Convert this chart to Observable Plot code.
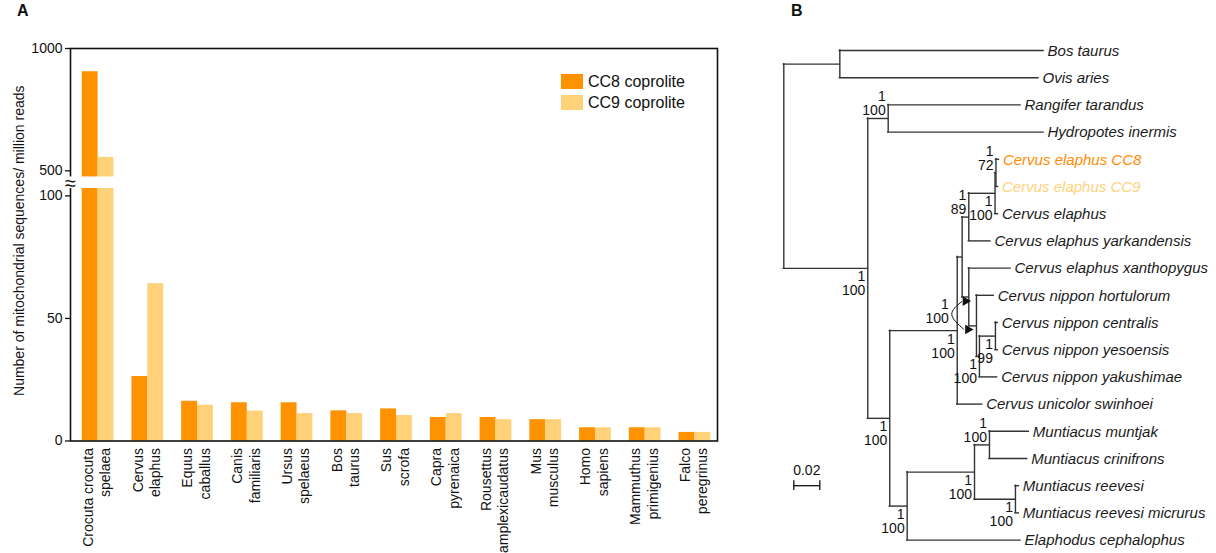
<!DOCTYPE html>
<html>
<head>
<meta charset="utf-8">
<script src="https://cdn.jsdelivr.net/npm/d3@7"></script>
<script src="https://cdn.jsdelivr.net/npm/@observablehq/plot@0.6"></script>
<style>
  body { margin: 0; background: #fff; font-family: "Liberation Sans", Arial, Helvetica, sans-serif; }
  #wrap { position: relative; width: 1216px; height: 553px; overflow: hidden; background: #fff; }
  #a, #b { position: absolute; top: 0; }
  #a { left: 0; }
  #b { left: 740px; }
  .panel { position: absolute; font-weight: bold; font-size: 16px; line-height: 16px; color: #111; }
  .leg { position: absolute; font-size: 16px; line-height: 16px; color: #111; white-space: nowrap; }
  .sw { position: absolute; width: 22px; height: 15px; }
</style>
</head>
<body>
<div id="wrap">
  <div id="a"></div>
  <div id="b"></div>
  <div class="panel" style="left:17px;top:3px">A</div>
  <div class="panel" style="left:791px;top:3px">B</div>
  <div class="sw" style="left:561px;top:74px;background:#FF9200"></div>
  <div class="leg" style="left:588px;top:74px">CC8 coprolite</div>
  <div class="sw" style="left:561px;top:95px;background:#FFD27A"></div>
  <div class="leg" style="left:588px;top:95px">CC9 coprolite</div>
</div>
<script>
// ---------- Panel A data ----------
const species = [
  "Crocuta crocuta spelaea", "Cervus elaphus", "Equus caballus", "Canis familiaris",
  "Ursus spelaeus", "Bos taurus", "Sus scrofa", "Capra pyrenaica",
  "Rousettus amplexicaudatus", "Mus musculus", "Homo sapiens",
  "Mammuthus primigenius", "Falco peregrinus"
];
const cc8 = [905, 26.3, 16.2, 15.6, 15.6, 12.3, 13.1, 9.6, 9.6, 8.7, 5.4, 5.4, 3.5];
const cc9 = [555, 64.2, 14.6, 12.2, 11.2, 11.2, 10.4, 11.2, 8.7, 8.7, 5.4, 5.4, 3.5];
const yTicks = [0, 50, 100, 500, 1000];
const yMax = 1000;
const breakLow = 103, breakHigh = 475;
const yLabel = "Number of mitochondrial sequences/ million reads";

// ---------- Panel B data (tree) ----------
const tipNames = [
  "Bos taurus", "Ovis aries", "Rangifer tarandus", "Hydropotes inermis",
  "Cervus elaphus CC8", "Cervus elaphus CC9", "Cervus elaphus",
  "Cervus elaphus yarkandensis", "Cervus elaphus xanthopygus",
  "Cervus nippon hortulorum", "Cervus nippon centralis", "Cervus nippon yesoensis",
  "Cervus nippon yakushimae", "Cervus unicolor swinhoei",
  "Muntiacus muntjak", "Muntiacus crinifrons", "Muntiacus reevesi",
  "Muntiacus reevesi micrurus", "Elaphodus cephalophus"
];
const tipParents = ["BO","BO","RH","RH","J","J","I","H","E","F","K","K","G","C","N","N","O","O","L"];
const tipDepths = [0.1998, 0.1959, 0.1821, 0.1998, 0.1655, 0.1648, 0.1648, 0.1590, 0.1744,
  0.1615, 0.1646, 0.1646, 0.1641, 0.1526, 0.1885, 0.1872, 0.1808, 0.1808, 0.1821];
const tipColors = ["#1a1a1a","#1a1a1a","#1a1a1a","#1a1a1a","#FF8C00","#FFD27A","#1a1a1a",
  "#1a1a1a","#1a1a1a","#1a1a1a","#1a1a1a","#1a1a1a","#1a1a1a","#1a1a1a","#1a1a1a","#1a1a1a",
  "#1a1a1a","#1a1a1a","#1a1a1a"];

const nodeIds     = ["root","BO","A","RH","B","C","D","H","I","J","E","F","G","K","L","M","N","O"];
const nodeParents = [null,"root","root","A","A","B","C","D","H","I","D","E","F","G","B","L","M","M"];
const nodeDepths  = [0, 0.0431, 0.0646, 0.0803, 0.0815, 0.1334, 0.1372, 0.1423, 0.1625, 0.1632,
  0.1423, 0.1482, 0.1505, 0.1628, 0.0949, 0.1467, 0.1582, 0.1782];

const supportNodes = ["A","RH","B","C","H","I","J","G","K","L","M","N","O"];
const supportPost  = ["1","1","1","1","1","1","1","1","1","1","1","1","1"];
const supportBoot  = ["100","100","100","100","89","100","72","100","99","100","100","100","100"];
const supportSide  = ["below","above","below","below","above","below","above","below","below","below","below","above","below"];
// ambiguous support shown with curved arrows pointing to nodes E and F
const arrowNodes = ["E","F"];
const arrowPost = "1", arrowBoot = "100";
const scaleBarLength = 0.02;

const FONT = "'Liberation Sans', Arial, Helvetica, sans-serif";

// ---------- Panel A ----------
// broken axis: values are mapped onto a compressed scale above the break
const gapUnits = 4.73, upperRatio = 0.0998;
const T = v => v <= breakLow ? v
  : v <= breakHigh ? breakLow + (v - breakLow) * gapUnits / (breakHigh - breakLow)
  : breakLow + gapUnits + (v - breakHigh) * upperRatio;
const rows = species.map((s, i) => ({species: s, cc8: T(cc8[i]), cc9: T(cc9[i])}));
const tickPos = yTicks.map(T);
const tickLabel = new Map(tickPos.map((t, i) => [t, String(yTicks[i])]));
const twoLines = s => { const k = s.lastIndexOf(" "); return s.slice(0, k) + "\n" + s.slice(k + 1); };

const chartA = Plot.plot({
  width: 740, height: 553,
  marginLeft: 70, marginRight: 23, marginTop: 48, marginBottom: 112.5,
  style: {fontFamily: FONT, fontSize: "14px", color: "#111", background: "transparent", overflow: "visible"},
  x: {domain: species, paddingInner: 0.362, paddingOuter: 0.185, align: 0.636, round: false},
  y: {domain: [0, T(yMax)], range: [440.5, 48]},
  marks: [
    Plot.barY(rows, {x: "species", y: "cc8", fill: "#FF9200", insetRight: 15.85}),
    Plot.barY(rows, {x: "species", y: "cc9", fill: "#FFD27A", insetLeft: 15.85}),
    Plot.frame({stroke: "#111", strokeWidth: 1.6}),
    Plot.rectY([0], {y1: T(breakLow), y2: T(breakHigh), fill: "white", insetLeft: -6, insetRight: 2}),
    Plot.text(["\u2248"], {y: (T(breakLow) + T(breakHigh)) / 2, frameAnchor: "left", textAnchor: "middle",
      text: d => d, fontSize: 20, fill: "#111", dy: 1}),
    Plot.axisY({ticks: tickPos, tickFormat: t => tickLabel.get(t), tickSize: 5, tickPadding: 3,
      fontSize: 14, label: null, strokeWidth: 1.3}),
    Plot.text([yLabel], {frameAnchor: "left", textAnchor: "middle", rotate: -90, dx: -51, dy: -4,
      text: d => d, fontSize: 14, fill: "#111"}),
    Plot.axisX({tickSize: 0, tickPadding: 7, tickRotate: -90, tickFormat: twoLines,
      fontSize: 14, lineHeight: 1.25, dx: -2, label: null})
  ]
});
document.getElementById("a").appendChild(chartA);

// ---------- Panel B ----------
const nodes = new Map();
nodeIds.forEach((id, i) => nodes.set(id, {id, parent: nodeParents[i], depth: nodeDepths[i], children: []}));
tipNames.forEach((n, i) => nodes.set(n, {id: n, parent: tipParents[i], depth: tipDepths[i], y: i, children: [], tip: true, color: tipColors[i]}));
for (const n of nodes.values()) if (n.parent) nodes.get(n.parent).children.push(n);
function yOf(n) { if (n.y === undefined) n.y = d3.mean(n.children, yOf); return n.y; }
yOf(nodes.get("root"));

const all = Array.from(nodes.values());
const horiz = all.filter(n => n.parent).map(n => ({y: n.y, x1: nodes.get(n.parent).depth, x2: n.depth}));
const vert = all.filter(n => !n.tip).map(n => ({x: n.depth, y1: d3.min(n.children, c => c.y), y2: d3.max(n.children, c => c.y)}));
const tips = all.filter(n => n.tip);
const supports = supportNodes.map((id, i) => ({x: nodes.get(id).depth, y: nodes.get(id).y,
  post: supportPost[i], boot: supportBoot[i], side: supportSide[i]}));
const above = supports.filter(d => d.side === "above");
const below = supports.filter(d => d.side === "below");

// pixel helpers for annotations (tree-space units per pixel)
const XR = [43.3, 433.3], XD = [0, 0.3];
const YR = [50, 539.6], YD = [0, 18];
const ux = (XD[1] - XD[0]) / (XR[1] - XR[0]);
const uy = (YD[1] - YD[0]) / (YR[1] - YR[0]);
const nE = nodes.get(arrowNodes[0]), nF = nodes.get(arrowNodes[1]);
const arc = [
  {x: nE.depth - 7 * ux, y: nE.y + 4.6 * uy},
  {x: nE.depth - 17 * ux, y: (nE.y + nF.y) / 2 + 3 * uy},
  {x: nF.depth - 13 * ux, y: nF.y + 3.1 * uy}
];
const heads = [
  {x: nE.depth - 3.3 * ux, y: nE.y + 4.1 * uy},
  {x: nF.depth - 8.5 * ux, y: nF.y + 3.6 * uy}
];
const arrowLabel = [{x: nE.depth - 20 * ux, y: (nE.y + nF.y) / 2}];
const sb = [{x1: 0.0077, x2: 0.0077 + scaleBarLength, y: 16}];

const LINE = "#333";
const SUP = {textAnchor: "end", dx: -2.5, fontSize: 14, fill: "#111"};
const chartB = Plot.plot({
  width: 476, height: 553, margin: 0,
  style: {fontFamily: FONT, fontSize: "14px", color: "#111", background: "transparent", overflow: "visible"},
  x: {domain: XD, range: XR, axis: null},
  y: {domain: YD, range: YR, axis: null},
  marks: [
    Plot.ruleY(horiz, {y: "y", x1: "x1", x2: "x2", stroke: LINE, strokeWidth: 1.4, strokeLinecap: "square"}),
    Plot.ruleX(vert, {x: "x", y1: "y1", y2: "y2", stroke: LINE, strokeWidth: 1.4, strokeLinecap: "square"}),
    Plot.text(tips, {x: "depth", y: "y", text: "id", fill: "color", fontStyle: "italic",
      fontSize: 15, textAnchor: "start", dx: 4, dy: 0.5}),
    Plot.text(above, {x: "x", y: "y", text: "boot", dy: -7.5, ...SUP}),
    Plot.text(above, {x: "x", y: "y", text: "post", dy: -21.5, ...SUP}),
    Plot.text(below, {x: "x", y: "y", text: "post", dy: 8.5, ...SUP}),
    Plot.text(below, {x: "x", y: "y", text: "boot", dy: 22.5, ...SUP}),
    Plot.line(arc, {x: "x", y: "y", curve: "natural", stroke: "#111", strokeWidth: 1}),
    Plot.dot(heads, {x: "x", y: "y", symbol: "triangle", r: 3.6, rotate: 90, fill: "#111", stroke: "none"}),
    Plot.text(arrowLabel, {x: "x", y: "y", text: () => arrowPost, textAnchor: "end", dy: -7, fontSize: 14, fill: "#111"}),
    Plot.text(arrowLabel, {x: "x", y: "y", text: () => arrowBoot, textAnchor: "end", dy: 7, fontSize: 14, fill: "#111"}),
    Plot.ruleY(sb, {y: "y", x1: "x1", x2: "x2", stroke: "#111", strokeWidth: 1.3}),
    Plot.ruleX(sb, {x: "x1", y1: d => d.y - 0.18, y2: d => d.y + 0.18, stroke: "#111", strokeWidth: 1.3}),
    Plot.ruleX(sb, {x: "x2", y1: d => d.y - 0.18, y2: d => d.y + 0.18, stroke: "#111", strokeWidth: 1.3}),
    Plot.text(sb, {x: d => (d.x1 + d.x2) / 2, y: "y", text: () => String(scaleBarLength), dy: -15, fontSize: 14, fill: "#111"})
  ]
});
document.getElementById("b").appendChild(chartB);
</script>
</body>
</html>
